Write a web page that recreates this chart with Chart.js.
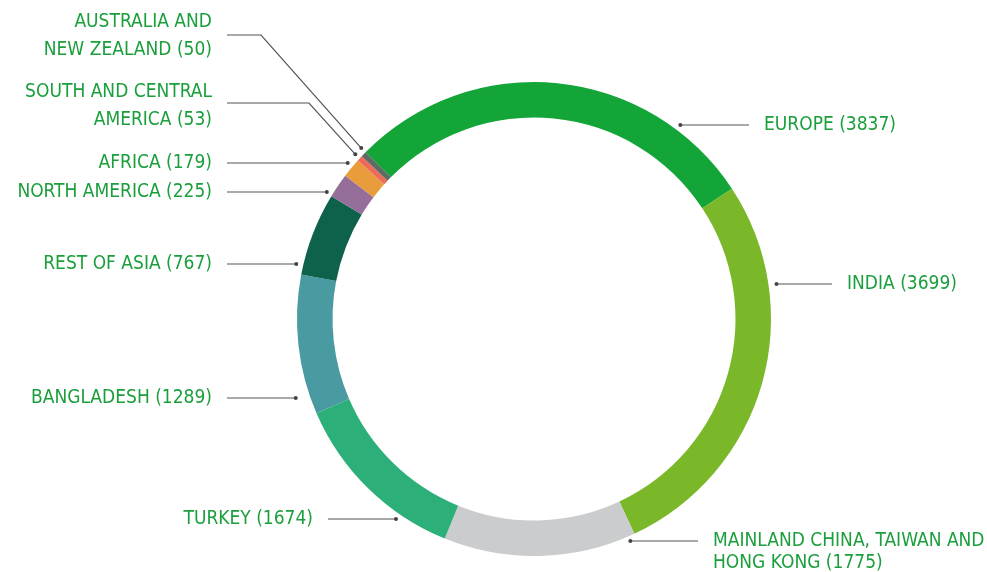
<!DOCTYPE html>
<html>
<head>
<meta charset="utf-8">
<script src="https://cdn.jsdelivr.net/npm/chart.js@4"></script>
<style>
  html, body { margin: 0; padding: 0; background: #ffffff; }
  #wrap { width: 987px; height: 572px; position: relative; }
</style>
</head>
<body>
<div id="wrap"><canvas id="c" width="987" height="572"></canvas></div>
<script>
// ---- data ----
const categories = [
  'EUROPE',
  'INDIA',
  'MAINLAND CHINA, TAIWAN AND\nHONG KONG',
  'TURKEY',
  'BANGLADESH',
  'REST OF ASIA',
  'NORTH AMERICA',
  'AFRICA',
  'SOUTH AND CENTRAL\nAMERICA',
  'AUSTRALIA AND\nNEW ZEALAND'
];
const values = [3837, 3699, 1775, 1674, 1289, 767, 225, 179, 53, 50];
const colors = ['#13a538', '#7ab829', '#cbcccd', '#2daf7a', '#4a9aa1',
                '#0e624b', '#956f9a', '#e89c3b', '#ef6b59', '#5e6b63'];

// ---- label layout (annotation placement only) ----
// side: 'r' = text left-aligned at x, 'l' = text right-aligned at x
// ys: text line centres; ly: leader y; mode 'h' horizontal to ring, 'e' elbow to arc middle
const labelLayout = [
  { side: 'r', x: 764, ys: [125],      ly: 125, mode: 'h', rOff: 6 },
  { side: 'r', x: 847, ys: [284],      ly: 284, mode: 'h', rOff: 8 },
  { side: 'r', x: 713, ys: [541, 563], ly: 541, mode: 'h', rOff: 5 },
  { side: 'l', x: 313, ys: [519],      ly: 519, mode: 'h', rOff: 6 },
  { side: 'l', x: 212, ys: [398],      ly: 398, mode: 'h', rOff: 14 },
  { side: 'l', x: 212, ys: [264],      ly: 264, mode: 'h', rOff: 7 },
  { side: 'l', x: 212, ys: [192],      ly: 192, mode: 'h', rOff: 6 },
  { side: 'l', x: 212, ys: [163],      ly: 163, mode: 'h', rOff: 6 },
  { side: 'l', x: 212, ys: [92, 120],  ly: 103, mode: 'e', elbow: 309, rOff: 6, t: 0.5 },
  { side: 'l', x: 212, ys: [22, 50],   ly: 35,  mode: 'e', elbow: 261, rOff: 6, t: 1.0 }
];

const labelPlugin = {
  id: 'leaderLabels',
  afterDraw(chart) {
    const ctx = chart.ctx;
    const meta = chart.getDatasetMeta(0);
    ctx.save();
    ctx.font = '19px "DejaVu Sans Condensed", "DejaVu Sans", sans-serif';
    try { ctx.fontStretch = 'condensed'; } catch (e) {}
    ctx.textBaseline = 'middle';
    meta.data.forEach((arc, i) => {
      const L = labelLayout[i];
      const cx = arc.x, cy = arc.y;
      const R = arc.outerRadius + L.rOff;
      let dotX, dotY;
      const pts = [];
      const startX = L.side === 'r' ? L.x - 15 : L.x + 15;
      pts.push([startX, L.ly]);
      if (L.mode === 'h') {
        const dy = L.ly - cy;
        const dx = Math.sqrt(Math.max(R * R - dy * dy, 0));
        dotX = L.side === 'r' ? cx + dx : cx - dx;
        dotY = L.ly;
      } else {
        const a = arc.startAngle + L.t * (arc.endAngle - arc.startAngle);
        dotX = cx + R * Math.cos(a);
        dotY = cy + R * Math.sin(a);
        pts.push([L.elbow, L.ly]);
      }
      pts.push([dotX, dotY]);
      ctx.strokeStyle = '#555555';
      ctx.lineWidth = 1.2;
      ctx.beginPath();
      ctx.moveTo(pts[0][0], pts[0][1]);
      for (let k = 1; k < pts.length; k++) ctx.lineTo(pts[k][0], pts[k][1]);
      ctx.stroke();
      ctx.fillStyle = '#444444';
      ctx.beginPath();
      ctx.arc(dotX, dotY, 2, 0, Math.PI * 2);
      ctx.fill();

      const text = categories[i] + ' (' + values[i] + ')';
      const lines = text.split('\n');
      ctx.fillStyle = '#1a9f3c';
      ctx.textAlign = L.side === 'r' ? 'left' : 'right';
      lines.forEach((ln, k) => ctx.fillText(ln, L.x, L.ys[k]));
    });
    ctx.restore();
  }
};

new Chart(document.getElementById('c'), {
  type: 'doughnut',
  data: {
    labels: categories,
    datasets: [{
      data: values,
      backgroundColor: colors,
      borderWidth: 0,
      hoverOffset: 0,
      offset: 0
    }]
  },
  options: {
    responsive: false,
    animation: false,
    cutout: '85%',
    rotation: -45.3,
    layout: { padding: { top: 82, bottom: 16, left: 81, right: 0 } },
    plugins: {
      legend: { display: false },
      tooltip: { enabled: false }
    },
    events: []
  },
  plugins: [labelPlugin]
});
</script>
</body>
</html>
